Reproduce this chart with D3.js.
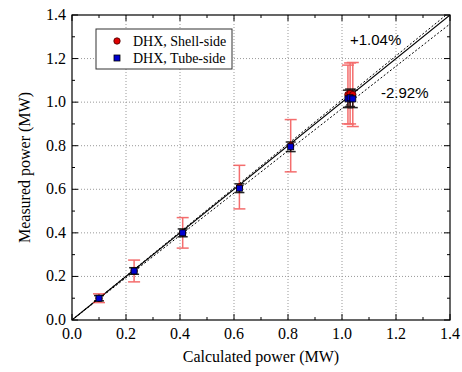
<!DOCTYPE html>
<html>
<head>
<meta charset="utf-8">
<script src="https://cdn.jsdelivr.net/npm/d3@7"></script>
<style>
  body { margin: 0; background: #fff; }
  text { font-family: "Liberation Serif", "DejaVu Serif", serif; fill: #000; }
  .pct { font-family: "Liberation Sans", Arial, sans-serif; }
</style>
</head>
<body>
<svg id="chart" width="462" height="372"></svg>
<script>
'use strict';

// calculated vs measured power, MW
const shellX = [0.10, 0.23, 0.41, 0.62, 0.81, 1.022, 1.03, 1.04];
const shellY = [0.10, 0.225, 0.40, 0.61, 0.80, 1.035, 1.04, 1.035];
const shellErr = [0.02, 0.05, 0.07, 0.10, 0.12, 0.135, 0.14, 0.147];

const tubeX = [0.10, 0.23, 0.41, 0.62, 0.81, 1.022, 1.03, 1.04];
const tubeY = [0.10, 0.225, 0.40, 0.605, 0.795, 1.015, 1.02, 1.015];
const tubeErr = [0.012, 0.015, 0.018, 0.02, 0.022, 0.04, 0.04, 0.04];

const fitLines = [
  { label: '+1.04%', slope: 1.0104 },
  { label: '-2.92%', slope: 0.9708 }
];
const ticks = [0, 0.2, 0.4, 0.6, 0.8, 1.0, 1.2, 1.4];
const minorTicks = d3.range(0, 1.41, 0.1);

const svg = d3.select('#chart');
const L = 72, R = 450, T = 15, B = 320;
const x = d3.scaleLinear().domain([0, 1.4]).range([L, R]);
const y = d3.scaleLinear().domain([0, 1.4]).range([B, T]);

svg.append('clipPath').attr('id', 'clip')
  .append('rect').attr('x', L).attr('y', T).attr('width', R - L).attr('height', B - T);

// dotted grid
const grid = svg.append('g').attr('stroke', '#999').attr('stroke-dasharray', '1,2');
grid.selectAll('.gx').data(ticks.slice(1, -1)).enter().append('line')
  .attr('x1', d => x(d)).attr('x2', d => x(d)).attr('y1', T).attr('y2', B);
grid.selectAll('.gy').data(ticks.slice(1, -1)).enter().append('line')
  .attr('y1', d => y(d)).attr('y2', d => y(d)).attr('x1', L).attr('x2', R);

// reference lines
const lines = svg.append('g').attr('clip-path', 'url(#clip)');
lines.append('line')
  .attr('x1', x(0)).attr('y1', y(0)).attr('x2', x(1.4)).attr('y2', y(1.4))
  .attr('stroke', '#000').attr('stroke-width', 1.1);
lines.selectAll('.fit').data(fitLines).enter().append('line')
  .attr('x1', x(0)).attr('y1', y(0))
  .attr('x2', x(1.4)).attr('y2', d => y(1.4 * d.slope))
  .attr('stroke', '#000').attr('stroke-width', 1).attr('stroke-dasharray', '2,2');

// error bars
function errorBars(xs, ys, es, color, width, cap, opacity) {
  const g = svg.append('g').attr('stroke', color).attr('stroke-width', width).attr('opacity', opacity);
  xs.forEach((v, i) => {
    const cx = x(v), y0 = y(ys[i] - es[i]), y1 = y(ys[i] + es[i]);
    g.append('line').attr('x1', cx).attr('x2', cx).attr('y1', y0).attr('y2', y1);
    g.append('line').attr('x1', cx - cap).attr('x2', cx + cap).attr('y1', y0).attr('y2', y0);
    g.append('line').attr('x1', cx - cap).attr('x2', cx + cap).attr('y1', y1).attr('y2', y1);
  });
}
errorBars(shellX, shellY, shellErr, '#f03030', 1.5, 6, 0.7);
errorBars(tubeX, tubeY, tubeErr, '#000', 1.5, 5, 0.85);

// markers
svg.append('g').selectAll('circle').data(shellX).enter().append('circle')
  .attr('cx', d => x(d)).attr('cy', (d, i) => y(shellY[i])).attr('r', 3.2)
  .attr('fill', '#e00000').attr('stroke', '#400').attr('stroke-width', 0.8);
svg.append('g').selectAll('rect').data(tubeX).enter().append('rect')
  .attr('x', d => x(d) - 3).attr('y', (d, i) => y(tubeY[i]) - 3)
  .attr('width', 6).attr('height', 6)
  .attr('fill', '#0000d0').attr('stroke', '#000').attr('stroke-width', 0.8);

// frame and inward ticks
svg.append('rect').attr('x', L).attr('y', T).attr('width', R - L).attr('height', B - T)
  .attr('fill', 'none').attr('stroke', '#000').attr('stroke-width', 1.2);
const tk = svg.append('g').attr('stroke', '#000').attr('stroke-width', 1);
minorTicks.forEach((v, i) => {
  const len = i % 2 === 0 ? 6 : 3;
  tk.append('line').attr('x1', x(v)).attr('x2', x(v)).attr('y1', B).attr('y2', B - len);
  tk.append('line').attr('x1', x(v)).attr('x2', x(v)).attr('y1', T).attr('y2', T + len);
  tk.append('line').attr('y1', y(v)).attr('y2', y(v)).attr('x1', L).attr('x2', L + len);
  tk.append('line').attr('y1', y(v)).attr('y2', y(v)).attr('x1', R).attr('x2', R - len);
});

// tick labels
svg.append('g').selectAll('text').data(ticks).enter().append('text')
  .attr('x', d => x(d)).attr('y', B + 19).attr('text-anchor', 'middle')
  .attr('font-size', 16).text(d => d.toFixed(1));
svg.append('g').selectAll('text').data(ticks).enter().append('text')
  .attr('x', L - 6).attr('y', d => y(d) + 5).attr('text-anchor', 'end')
  .attr('font-size', 16).text(d => d.toFixed(1));

// axis titles
svg.append('text').attr('x', (L + R) / 2).attr('y', 362).attr('text-anchor', 'middle')
  .attr('font-size', 16).text('Calculated power (MW)');
svg.append('text').attr('transform', 'translate(30,' + ((T + B) / 2) + ') rotate(-90)')
  .attr('text-anchor', 'middle').attr('font-size', 16).text('Measured power (MW)');

// percentage labels
svg.append('text').attr('class', 'pct').attr('x', 350).attr('y', 45)
  .attr('font-size', 15).text(fitLines[0].label);
svg.append('text').attr('class', 'pct').attr('x', 381).attr('y', 98)
  .attr('font-size', 15).text(fitLines[1].label);

// legend
const lg = svg.append('g');
lg.append('rect').attr('x', 96).attr('y', 29).attr('width', 136).attr('height', 40)
  .attr('fill', '#fff').attr('stroke', '#333').attr('stroke-width', 1);
lg.append('circle').attr('cx', 117).attr('cy', 41).attr('r', 3.2)
  .attr('fill', '#e00000').attr('stroke', '#400').attr('stroke-width', 0.8);
lg.append('rect').attr('x', 114).attr('y', 55).attr('width', 6).attr('height', 6)
  .attr('fill', '#0000d0').attr('stroke', '#000').attr('stroke-width', 0.8);
lg.append('text').attr('x', 133).attr('y', 46).attr('font-size', 14).text('DHX, Shell-side');
lg.append('text').attr('x', 133).attr('y', 63).attr('font-size', 14).text('DHX, Tube-side');
</script>
</body>
</html>
